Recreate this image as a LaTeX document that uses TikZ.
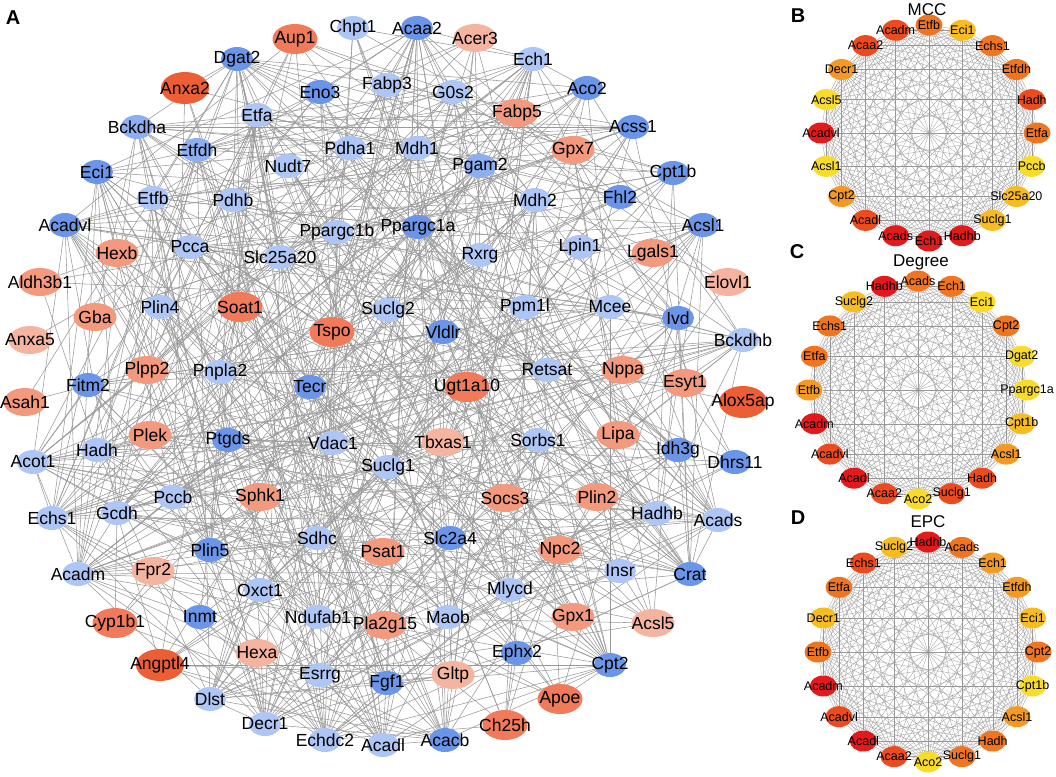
\documentclass[tikz,border=0pt]{standalone}
\usepackage{fontspec}
\setmainfont{Liberation Sans}
\usepackage{tikz}
\usetikzlibrary{shapes.geometric}

\pgfdeclarelayer{background}
\pgfsetlayers{background,main}

% node colours, panel A
\definecolor{blueA}{HTML}{ADC6F6}
\definecolor{blueB}{HTML}{8DAFF1}
\definecolor{blueC}{HTML}{6A95E9}
\definecolor{redA}{HTML}{F5B49F}
\definecolor{redB}{HTML}{F3997E}
\definecolor{redC}{HTML}{F07A5A}
\definecolor{redD}{HTML}{EC5E36}
% node colours, panels B-D
\definecolor{heatA}{HTML}{E31A1C}
\definecolor{heatB}{HTML}{EB4B1F}
\definecolor{heatC}{HTML}{F07520}
\definecolor{heatD}{HTML}{F49A22}
\definecolor{heatE}{HTML}{F7BC22}
\definecolor{heatF}{HTML}{F9DC2A}

% name / x / y / colour / weight
\newcommand{\genelist}{%
Chpt1/353/28/blueA/.3, Aup1/295/39/redC/.15, Acaa2/417/28/blueC/.6, Acer3/475/38/redA/.12,
Dgat2/237/59/blueC/.6, Ech1/533/59/blueA/.6, Anxa2/185/88/redD/.12, Eno3/320/92/blueC/.3,
Fabp3/387/85/blueA/.35, G0s2/453/92/blueA/.3, Aco2/587/88/blueC/.6, Fabp5/517/113/redB/.15,
Etfa/257/115/blueA/.6, Bckdha/137/127/blueB/.55, Acss1/633/127/blueC/.55, Etfdh/197/150/blueB/.6,
Pdha1/350/148/blueA/.45, Mdh1/417/148/blueA/.45, Gpx7/573/150/redB/.15, Nudt7/288/166/blueA/.3,
Pgam2/480/166/blueB/.3, Eci1/97/172/blueC/.6, Cpt1b/673/173/blueC/.6, Etfb/153/198/blueA/.6,
Pdhb/233/200/blueA/.45, Mdh2/535/200/blueA/.5, Fhl2/620/197/blueC/.3, Acadvl/65/225/blueC/.65,
Ppargc1b/337/232/blueA/.35, Ppargc1a/418/227/blueC/.45, Acsl1/703/225/blueC/.6, Pcca/190/247/blueA/.45,
Hexb/117/253/redB/.12, Slc25a20/280/257/blueA/.5, Rxrg/480/255/blueA/.3, Lpin1/580/247/blueA/.3,
Lgals1/653/253/redB/.12, Aldh3b1/40/282/redB/.12, Elovl1/728/282/redA/.15, Plin4/160/307/blueA/.3,
Soat1/240/307/redC/.15, Suclg2/388/310/blueA/.5, Ppm1l/525/307/blueA/.3, Mcee/610/307/blueA/.4,
Ivd/678/318/blueC/.45, Gba/95/317/redB/.12, Tspo/332/332/redC/.15, Vldlr/443/332/blueC/.25,
Anxa5/30/340/redA/.1, Bckdhb/743/340/blueA/.55, Plpp2/147/370/redB/.12, Pnpla2/220/372/blueA/.3,
Retsat/547/370/blueA/.3, Nppa/623/370/redB/.12, Tecr/310/387/blueC/.3, Fitm2/88/385/blueC/.25,
Ugt1a10/467/387/redC/.12, Esyt1/685/383/redB/.12, Asah1/25/402/redB/.12, Alox5ap/743/402/redD/.1,
Plek/150/435/redB/.12, Ptgds/228/440/blueC/.25, Vdac1/333/443/blueA/.35, Tbxas1/443/442/redA/.12,
Sorbs1/538/440/blueA/.3, Lipa/618/435/redB/.12, Hadh/97/450/blueA/.55, Idh3g/678/450/blueC/.45,
Acot1/33/462/blueA/.5, Dhrs11/735/462/blueC/.25, Suclg1/388/467/blueA/.5, Pccb/173/497/blueA/.5,
Sphk1/260/497/redB/.12, Socs3/505/498/redB/.12, Plin2/597/497/redB/.12, Gcdh/117/513/blueA/.5,
Hadhb/657/513/blueA/.6, Echs1/52/518/blueA/.65, Acads/718/520/blueA/.65, Sdhc/317/538/blueA/.45,
Slc2a4/450/538/blueC/.3, Plin5/210/550/blueC/.3, Psat1/383/552/redB/.12, Npc2/560/550/redB/.12,
Acadm/78/574/blueA/.65, Fpr2/153/571/redA/.1, Insr/620/571/blueA/.3, Crat/690/574/blueC/.55,
Oxct1/260/590/blueA/.45, Mlycd/510/590/blueA/.45, Cyp1b1/115/623/redC/.2, Inmt/200/617/blueC/.25,
Ndufab1/318/617/blueA/.45, Pla2g15/385/625/redB/.12, Maob/448/617/blueA/.3, Gpx1/573/617/redB/.2,
Acsl5/653/623/redA/.35, Hexa/257/653/redA/.15, Ephx2/517/653/blueC/.3, Angptl4/160/665/redD/.2,
Cpt2/610/665/blueC/.6, Esrrg/320/675/blueA/.3, Fgf1/387/683/blueC/.3, Gltp/453/675/redA/.15,
Dlst/210/699/blueA/.55, Apoe/560/699/redC/.2, Decr1/265/724/blueA/.6, Ch25h/505/725/redC/.2,
Echdc2/325/740/blueA/.55, Acacb/445/740/blueC/.55, Acadl/383/745/blueA/.65}

\begin{document}
\begin{tikzpicture}[x=1pt, y=-1pt]
    \tikzstyle{gene} = [ellipse, inner sep=0pt, minimum width=32pt, minimum height=24pt]
    \tikzstyle{genetext} = [inner sep=0pt, font=\fontsize{17.5}{20}\selectfont]
    \tikzstyle{hub} = [ellipse, inner sep=0pt, minimum width=27pt, minimum height=21pt]
    \tikzstyle{hubtext} = [inner sep=0pt, font=\fontsize{12.5}{14}\selectfont]
    \tikzstyle{heading} = [inner sep=0pt, font=\fontsize{17}{20}\selectfont]
    \tikzstyle{panel} = [inner sep=0pt, font=\fontsize{20}{24}\selectfont\bfseries]
    \tikzstyle{link} = [gray!80, line width=0.55pt]
    \tikzstyle{ring} = [gray!80, line width=0.3pt]
    \tikzset{blueA/.style={fill=blueA}, blueB/.style={fill=blueB}, blueC/.style={fill=blueC},
        redA/.style={fill=redA, minimum width=43pt, minimum height=28pt},
        redB/.style={fill=redB, minimum width=43pt, minimum height=28pt},
        redC/.style={fill=redC, minimum width=45pt, minimum height=30pt},
        redD/.style={fill=redD, minimum width=48pt, minimum height=32pt}}

    \useasboundingbox (0,0) rectangle (1056,776);

    % Panel letters
    \node[panel] (pa) at (13,18) {A};
    \node[panel] (pb) at (798,16) {B};
    \node[panel] (pc) at (797,252) {C};
    \node[panel] (pd) at (798,518) {D};

    % Network A
    \foreach \g/\x/\y/\s/\w in \genelist {
        \node[gene, \s, label={[genetext]center:\g}] (\g) at (\x,\y) {};
    }
    \pgfmathsetseed{11}
    \begin{pgfonlayer}{background}
    \foreach \ga/\xa/\ya/\sa/\wa [count=\i] in \genelist {
        \foreach \gb/\xb/\yb/\sb/\wb [count=\j] in \genelist {
            \ifnum\j>\i
                \pgfmathtruncatemacro{\hit}{rnd < 0.85*\wa*\wb}
                \ifnum\hit=1 \draw[link] (\ga) -- (\gb); \fi
            \fi
        }
    }
    \end{pgfonlayer}

    % MCC
    \node[heading] (mcc) at (927,10) {MCC};
    \foreach \g/\h [count=\i from 0] in {Etfb/heatC, Eci1/heatE, Echs1/heatC, Etfdh/heatC, Hadh/heatB,
        Etfa/heatC, Pccb/heatF, Slc25a20/heatE, Suclg1/heatE, Hadhb/heatA, Ech1/heatA, Acads/heatA,
        Acadl/heatB, Cpt2/heatD, Acsl1/heatF, Acadvl/heatA, Acsl5/heatF, Decr1/heatD, Acaa2/heatB, Acadm/heatB}
        \node[hub, fill=\h, label={[hubtext]center:\g}] (mcc\i) at ({929+108*cos(90-18*\i)}, {133-108*sin(90-18*\i)}) {};

    % Degree
    \node[heading] (deg) at (921,262) {Degree};
    \foreach \g/\h [count=\i from 0] in {Acads/heatC, Ech1/heatC, Eci1/heatF, Cpt2/heatC, Dgat2/heatF,
        Ppargc1a/heatF, Cpt1b/heatE, Acsl1/heatD, Hadh/heatB, Suclg1/heatB, Aco2/heatF, Acaa2/heatB,
        Acadl/heatA, Acadvl/heatB, Acadm/heatA, Etfb/heatD, Etfa/heatC, Echs1/heatC, Suclg2/heatE, Hadhb/heatA}
        \node[hub, fill=\h, label={[hubtext]center:\g}] (deg\i) at ({918+109*cos(90-18*\i)}, {390-109*sin(90-18*\i)}) {};

    % EPC
    \node[heading] (epc) at (928,522) {EPC};
    \foreach \g/\h [count=\i from 0] in {Hadhb/heatA, Acads/heatC, Ech1/heatD, Etfdh/heatD, Eci1/heatE,
        Cpt2/heatC, Cpt1b/heatF, Acsl1/heatD, Hadh/heatC, Suclg1/heatC, Aco2/heatF, Acaa2/heatB,
        Acadl/heatA, Acadvl/heatB, Acadm/heatA, Etfb/heatC, Decr1/heatE, Etfa/heatC, Echs1/heatB, Suclg2/heatE}
        \node[hub, fill=\h, label={[hubtext]center:\g}] (epc\i) at ({928+110*cos(90-18*\i)}, {652-110*sin(90-18*\i)}) {};

    % complete graphs
    \begin{pgfonlayer}{background}
    \foreach \i in {0,...,19} \foreach \j in {0,...,19} {
        \ifnum\j>\i
            \draw[ring] (mcc\i) -- (mcc\j);
            \draw[ring] (deg\i) -- (deg\j);
            \draw[ring] (epc\i) -- (epc\j);
        \fi
    }
    \end{pgfonlayer}

\end{tikzpicture}
\end{document}
